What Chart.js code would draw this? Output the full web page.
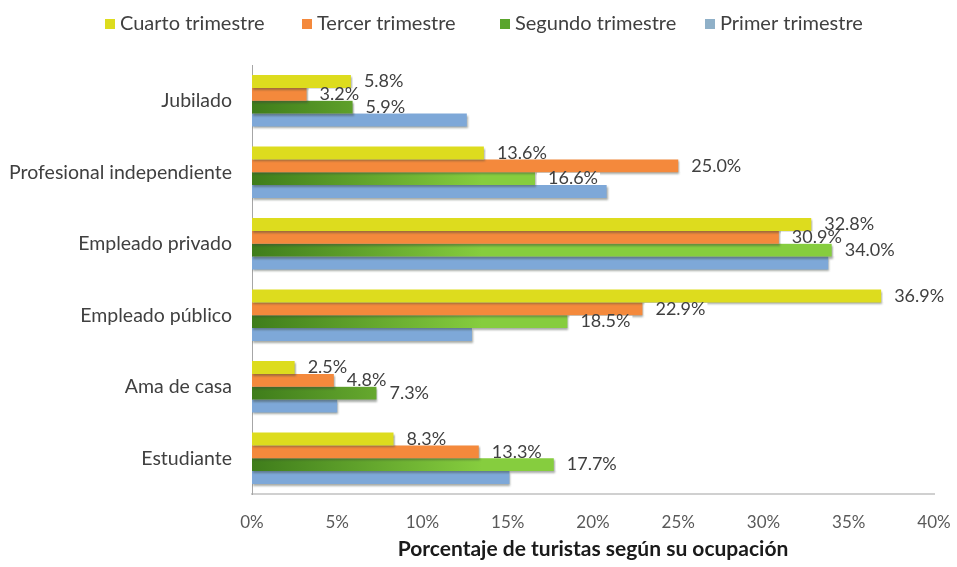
<!DOCTYPE html>
<html>
<head>
<meta charset="utf-8">
<script src="https://cdn.jsdelivr.net/npm/chart.js@4.4.0/dist/chart.umd.min.js"></script>
<style>
  html, body { margin: 0; padding: 0; background: #ffffff; }
  #wrap { width: 957px; height: 567px; position: relative; }
</style>
</head>
<body>
<div id="wrap"><canvas id="chart"></canvas></div>
<script>
// Occupation categories (top to bottom)
const categories = ['Jubilado', 'Profesional independiente', 'Empleado privado', 'Empleado público', 'Ama de casa', 'Estudiante'];

// Share of tourists per quarter, in percent
const cuartoTrimestre  = [5.8, 13.6, 32.8, 36.9, 2.5, 8.3];
const tercerTrimestre  = [3.2, 25.0, 30.9, 22.9, 4.8, 13.3];
const segundoTrimestre = [5.9, 16.6, 34.0, 18.5, 7.3, 17.7];
const primerTrimestre  = [12.6, 20.8, 33.8, 12.9, 5.0, 15.1];

const seriesNames = ['Cuarto trimestre', 'Tercer trimestre', 'Segundo trimestre', 'Primer trimestre'];
const xTickValues = [0, 5, 10, 15, 20, 25, 30, 35, 40];
const axisTitle = 'Porcentaje de turistas según su ocupación';

const FONT = 'Lato, "Open Sans", sans-serif';
const COLORS = {
  yellow: '#dddc1e',
  orange: '#f4893c',
  greenDark: '#3f7d1b',
  greenLight: '#86cd3e',
  blue: '#7ea8d8'
};

// Green bars fade from dark to light along the value axis
function greenFill(context) {
  const chart = context.chart;
  const area = chart.chartArea;
  if (!area) return COLORS.greenLight;
  const g = chart.ctx.createLinearGradient(area.left, 0, area.left + 230, 0);
  g.addColorStop(0, COLORS.greenDark);
  g.addColorStop(1, COLORS.greenLight);
  return g;
}

// Soft drop shadow under every bar
const barShadow = {
  id: 'barShadow',
  beforeDatasetsDraw(chart) {
    const c = chart.ctx;
    c.save();
    c.shadowColor = 'rgba(60,70,60,0.45)';
    c.shadowOffsetX = 1;
    c.shadowOffsetY = 2;
    c.shadowBlur = 2;
  },
  afterDatasetsDraw(chart) {
    chart.ctx.restore();
  }
};

// Value labels at the end of the bars (first three series only)
const valueLabels = {
  id: 'valueLabels',
  afterDatasetsDraw(chart) {
    const c = chart.ctx;
    c.save();
    c.font = '18px ' + FONT;
    c.textBaseline = 'middle';
    c.textAlign = 'left';
    [0, 1, 2].forEach(di => {
      const meta = chart.getDatasetMeta(di);
      const data = chart.data.datasets[di].data;
      meta.data.forEach((bar, i) => {
        const txt = data[i].toFixed(1) + '%';
        const w = c.measureText(txt).width;
        const h = bar.height;
        const tx = bar.x + 13;
        const ty = bar.y;
        c.fillStyle = '#ffffff';
        c.fillRect(bar.x + 2, bar.y - h / 2 + 0.5, tx - bar.x - 2 + w + 2, h - 1);
        c.fillStyle = '#404040';
        c.fillText(txt, tx, ty);
      });
    });
    c.restore();
  }
};

// Legend row across the top
const legendColors = [COLORS.yellow, COLORS.orange, '#5aa52c', '#8fb0c8'];
const legendBoxX = [105, 302, 500, 705];
const topLegend = {
  id: 'topLegend',
  afterDraw(chart) {
    const c = chart.ctx;
    c.save();
    c.font = '20px ' + FONT;
    c.textBaseline = 'middle';
    c.textAlign = 'left';
    const cy = 24;
    seriesNames.forEach((name, i) => {
      const x = legendBoxX[i];
      c.fillStyle = legendColors[i];
      c.fillRect(x, cy - 5, 10, 10);
      c.fillStyle = '#404040';
      c.fillText(name, x + 15, cy);
    });
    c.restore();
  }
};

const chart = new Chart(document.getElementById('chart'), {
  type: 'bar',
  data: {
    labels: categories,
    datasets: [
      { label: seriesNames[0], data: cuartoTrimestre,  backgroundColor: COLORS.yellow },
      { label: seriesNames[1], data: tercerTrimestre,  backgroundColor: COLORS.orange },
      { label: seriesNames[2], data: segundoTrimestre, backgroundColor: greenFill },
      { label: seriesNames[3], data: primerTrimestre,  backgroundColor: COLORS.blue }
    ]
  },
  options: {
    indexAxis: 'y',
    responsive: true,
    maintainAspectRatio: false,
    animation: false,
    layout: { padding: { top: 65, right: 0, bottom: 0, left: 0 } },
    datasets: { bar: { categoryPercentage: 0.72, barPercentage: 1.0 } },
    plugins: {
      tooltip: { enabled: false },
      legend: { display: false }
    },
    scales: {
      x: {
        min: 0,
        max: 40,
        afterBuildTicks(scale) {
          scale.ticks = xTickValues.map(v => ({ value: v }));
        },
        grid: { display: false, drawTicks: false },
        border: { display: true, color: '#d0d0d0', width: 2 },
        ticks: {
          padding: 18,
          color: '#595959',
          font: { family: FONT, size: 17 },
          callback: v => v + '%'
        },
        title: {
          display: true,
          text: axisTitle,
          color: '#1a1a1a',
          font: { family: FONT, size: 21, weight: 'bold' },
          padding: { top: 6, bottom: 5 }
        },
        afterFit(scale) {
          scale.height = 73;
          scale.paddingLeft = 0;
          scale.paddingRight = 23;
        }
      },
      y: {
        grid: { display: false, drawTicks: false },
        border: { display: true, color: '#a6a6a6', width: 1 },
        ticks: {
          padding: 20,
          color: '#404040',
          font: { family: FONT, size: 19.5 }
        },
        afterFit(scale) { scale.width = 252; }
      }
    }
  },
  plugins: [barShadow, valueLabels, topLegend]
});
</script>
</body>
</html>
